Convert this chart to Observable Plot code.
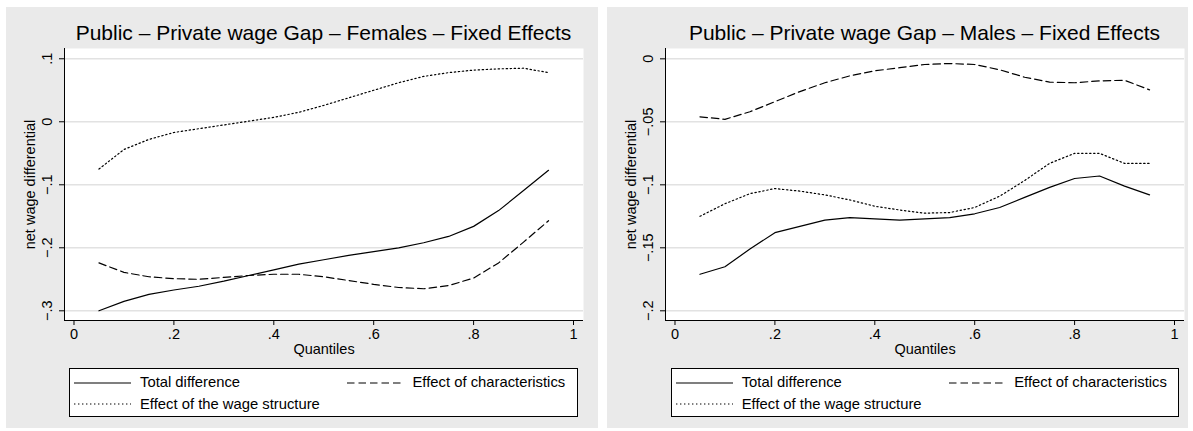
<!DOCTYPE html>
<html><head><meta charset="utf-8">
<script src="https://cdn.jsdelivr.net/npm/d3@7"></script>
<script src="https://cdn.jsdelivr.net/npm/@observablehq/plot@0.6"></script>
<style>
body{margin:0;background:#fff;font-family:"Liberation Sans",Arial,Helvetica,sans-serif;color:#000;}
.panel{position:absolute;background:#eaeaea;overflow:hidden;}
.panel svg.plot{position:absolute;left:0;top:0;}
.title{position:absolute;font-size:21px;line-height:21px;white-space:nowrap;transform:translateX(-50%);}
.legend{position:absolute;background:#fff;border:1px solid #000;box-sizing:border-box;}
.item{position:absolute;font-size:14.8px;line-height:14.8px;white-space:nowrap;}
.sample{position:absolute;overflow:visible;}
</style></head><body>
<script>
// ---- data ----
const quantiles = [0.05,0.10,0.15,0.20,0.25,0.30,0.35,0.40,0.45,0.50,0.55,0.60,0.65,0.70,0.75,0.80,0.85,0.90,0.95];
const femTotal = [-0.300,-0.285,-0.274,-0.267,-0.261,-0.253,-0.244,-0.235,-0.226,-0.219,-0.212,-0.206,-0.200,-0.192,-0.182,-0.166,-0.141,-0.109,-0.077];
const femChar  = [-0.224,-0.239,-0.246,-0.249,-0.250,-0.247,-0.244,-0.242,-0.242,-0.246,-0.252,-0.258,-0.263,-0.265,-0.260,-0.248,-0.224,-0.191,-0.157];
const femWage  = [-0.075,-0.044,-0.028,-0.017,-0.011,-0.005,0.001,0.007,0.015,0.026,0.038,0.050,0.062,0.072,0.078,0.082,0.084,0.085,0.078];
const maleTotal = [-0.171,-0.165,-0.151,-0.138,-0.133,-0.128,-0.126,-0.127,-0.128,-0.127,-0.126,-0.123,-0.118,-0.110,-0.102,-0.095,-0.093,-0.101,-0.108];
const maleChar  = [-0.046,-0.048,-0.042,-0.034,-0.026,-0.019,-0.0135,-0.0095,-0.007,-0.0045,-0.0037,-0.0045,-0.0087,-0.0146,-0.0185,-0.019,-0.0175,-0.017,-0.0246];
const maleWage  = [-0.125,-0.115,-0.107,-0.103,-0.105,-0.108,-0.112,-0.117,-0.120,-0.1225,-0.122,-0.118,-0.109,-0.0966,-0.083,-0.075,-0.075,-0.083,-0.083];
const seriesNames = ["Total difference","Effect of characteristics","Effect of the wage structure"];
const xTicks = [0,0.2,0.4,0.6,0.8,1];
const femYTicks = [-0.3,-0.2,-0.1,0,0.1];
const maleYTicks = [-0.2,-0.15,-0.1,-0.05,0];
const titles = ["Public \u2013 Private wage Gap \u2013 Females \u2013 Fixed Effects","Public \u2013 Private wage Gap \u2013 Males \u2013 Fixed Effects"];
const xLabel = "Quantiles";
const yLabel = "net wage differential";

// ---- styles ----
const dashes = [null, "7.5,4", "1.4,2.6"];
const fmt = d => d === 0 ? "0" : (d < 0 ? "\u2212" : "") + String(Math.abs(d)).replace(/^0\./, ".");
const xDomain = [-0.019, 1.02];

const panels = [
  {left:6, width:592, mr:15, series:[femTotal,femChar,femWage], yTicks:femYTicks, yDomain:[-0.3154,0.1163], title:titles[0], legL:63, legW:509},
  {left:607, width:581, mr:4, series:[maleTotal,maleChar,maleWage], yTicks:maleYTicks, yDomain:[-0.2077,0.0082], title:titles[1], legL:63.7, legW:508}
];

for (const p of panels) {
  const div = document.createElement("div");
  div.className = "panel";
  Object.assign(div.style, {left:p.left+"px", top:"7px", width:p.width+"px", height:"421px"});
  document.body.appendChild(div);

  const rows = [];
  p.series.forEach((vals, s) => vals.forEach((v, i) => rows.push({q: quantiles[i], v, s: seriesNames[s]})));

  const chart = Plot.plot({
    width: p.width, height: 355,
    marginLeft: 58, marginRight: p.mr, marginTop: 41, marginBottom: 42,
    x: {domain: xDomain},
    y: {domain: p.yDomain},
    style: {fontFamily: '"Liberation Sans",Arial,Helvetica,sans-serif', fontSize: "14.5px", background: "transparent", color: "#000", overflow: "visible"},
    marks: [
      Plot.frame({fill: "white"}),
      Plot.gridY(p.yTicks, {stroke: "#e2e2e2", strokeOpacity: 1, strokeWidth: 1.5}),
      Plot.ruleX([xDomain[0]], {stroke: "black", strokeWidth: 1}),
      Plot.ruleY([p.yDomain[0]], {stroke: "black", strokeWidth: 1}),
      ...seriesNames.map((name, s) => Plot.line(rows.filter(r => r.s === name), {
        x: "q", y: "v", stroke: "black", strokeWidth: 1.2, strokeDasharray: dashes[s]
      })),
      Plot.axisX(xTicks, {tickSize: 5, tickFormat: fmt, label: null, tickPadding: 3}),
      Plot.axisY(p.yTicks, {tickSize: 5, tickRotate: -90, tickPadding: 8, tickFormat: fmt, label: null}),
      Plot.text([xLabel], {frameAnchor: "bottom", dy: 33, text: d => d}),
      Plot.text([yLabel], {frameAnchor: "left", textAnchor: "middle", dx: -34.5, rotate: -90, text: d => d})
    ]
  });
  chart.classList.add("plot");
  div.appendChild(chart);

  const t = document.createElement("div");
  t.className = "title";
  t.textContent = p.title;
  t.style.left = (58 + (p.width - 58 - p.mr) / 2) + "px";
  t.style.top = "15px";
  div.appendChild(t);

  const leg = document.createElement("div");
  leg.className = "legend";
  Object.assign(leg.style, {left: p.legL + "px", top: "361px", width: p.legW + "px", height: "49px"});
  div.appendChild(leg);
  const items = [
    {s:0, sx:4, tx:70, sy:13.7, ty:6.4},
    {s:1, sx:277, tx:342.5, sy:13.7, ty:6.4},
    {s:2, sx:4, tx:70, sy:35.3, ty:28.4}
  ];
  for (const it of items) {
    const ns = "http://www.w3.org/2000/svg";
    const svg = document.createElementNS(ns, "svg");
    svg.setAttribute("class", "sample");
    svg.setAttribute("width", 57); svg.setAttribute("height", 4);
    svg.style.left = it.sx + "px"; svg.style.top = (it.sy - 2) + "px";
    const ln = document.createElementNS(ns, "line");
    ln.setAttribute("x1", 0); ln.setAttribute("x2", 57); ln.setAttribute("y1", 2); ln.setAttribute("y2", 2);
    ln.setAttribute("stroke", "black"); ln.setAttribute("stroke-width", 1.2);
    if (dashes[it.s]) ln.setAttribute("stroke-dasharray", dashes[it.s]);
    svg.appendChild(ln);
    leg.appendChild(svg);
    const tx = document.createElement("div");
    tx.className = "item";
    tx.textContent = seriesNames[it.s];
    tx.style.left = it.tx + "px"; tx.style.top = it.ty + "px";
    leg.appendChild(tx);
  }
}
</script>
</body></html>
